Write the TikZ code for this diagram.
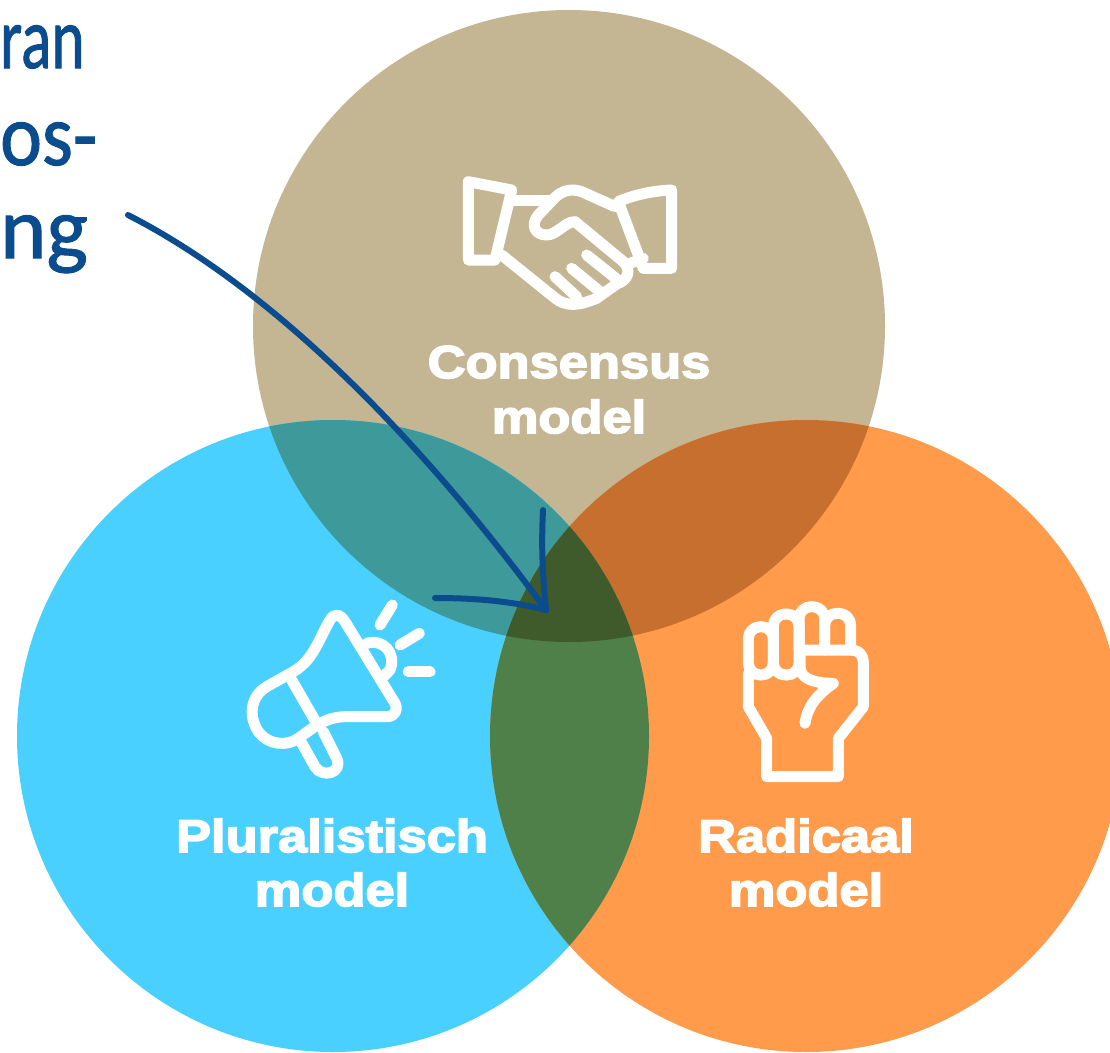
\documentclass[tikz,border=0pt]{standalone}
\usepackage{fontspec}
\newfontfamily\labfont[FakeBold=3.6,FakeStretch=1.14]{Liberation Sans Bold}
\newfontfamily\handfont[FakeBold=1.2]{Carlito}
\definecolor{ctop}{HTML}{C4B593}
\definecolor{cleft}{HTML}{4AD0FF}
\definecolor{cright}{HTML}{FF9B4A}
\definecolor{ctl}{HTML}{3E9A9A}
\definecolor{ctr}{HTML}{C76F2E}
\definecolor{clr}{HTML}{4F8049}
\definecolor{call}{HTML}{3F5A2B}
\definecolor{ink}{HTML}{0A4C8E}
\tikzset{
  lab/.style={text=white,font=\labfont\fontsize{46}{46}\selectfont,anchor=base,inner sep=0pt},
  hand/.style={text=ink,font=\handfont\fontsize{88}{88}\selectfont,anchor=base west,inner sep=0pt},
  icon/.style={draw=white,line width=11pt,line cap=round,line join=round},
  pen/.style={draw=ink,line width=6pt,line cap=round,line join=round},
  zoomed/.style={x=0.33333pt,y=-0.33333pt}
}
\def\ctop{(569,326) circle[radius=316]}
\def\cleft{(333,736) circle[radius=316]}
\def\cright{(806,736) circle[radius=316]}
\begin{document}
\begin{tikzpicture}[x=1pt,y=-1pt]
\useasboundingbox (0,0) rectangle (1110,1052);
\fill[white] (0,0) rectangle (1110,1052);
\fill[ctop] \ctop;
\fill[cleft] \cleft;
\fill[cright] \cright;
\begin{scope}\clip \ctop; \fill[ctl] \cleft; \fill[ctr] \cright; \end{scope}
\begin{scope}\clip \cleft; \fill[clr] \cright; \end{scope}
\begin{scope}\clip \ctop; \clip \cleft; \fill[call] \cright; \end{scope}

% handshake
\begin{scope}[shift={(440,160)},zoomed]
\draw[icon] (85,65) -- (215,90) -- (165,300) -- (85,300) -- cycle;
\draw[icon] (695,90) .. controls (640,92) and (580,105) .. (535,125) -- (610,325) -- (695,325) -- cycle;
\draw[icon] (215,122) -- (330,122);
\draw[icon] (525,140) -- (425,95) .. controls (395,85) and (370,90) .. (345,112) -- (295,165)
  .. controls (270,195) and (285,225) .. (320,225) .. controls (350,225) and (375,185) .. (405,185)
  -- (550,305) .. controls (575,330) and (565,360) .. (530,372);
\draw[icon] (185,285) -- (340,410) .. controls (380,445) and (420,435) .. (470,415) -- (530,372);
\draw[icon] (345,350) -- (410,410);
\draw[icon] (395,325) -- (480,395);
\draw[icon] (440,285) -- (540,365);
\draw[icon] (570,310) -- (610,295);
\end{scope}

% megaphone
\begin{scope}[shift={(230,590)},zoomed]
\draw[icon] (300,90) .. controls (265,150) and (250,210) .. (190,245) -- (110,290)
  .. controls (60,320) and (55,380) .. (85,425) .. controls (115,465) and (170,470) .. (205,445)
  .. controls (260,405) and (290,380) .. (350,380) -- (470,380)
  .. controls (495,380) and (505,360) .. (495,340) -- (345,95)
  .. controls (330,70) and (312,70) .. (300,90) -- cycle;
\draw[icon] (185,270) -- (260,400);
\draw[icon] (210,450) -- (255,530) .. controls (275,565) and (340,550) .. (320,505) -- (280,425);
\draw[icon] (410,160) .. controls (460,145) and (500,190) .. (480,240) -- (462,258);
\draw[icon] (450,105) -- (487,45);
\draw[icon] (510,165) -- (568,130);
\draw[icon] (535,245) -- (600,245);
\end{scope}

% fist
\begin{scope}[shift={(720,590)},zoomed]
\draw[icon] (85,250) -- (85,350) -- (140,445) -- (140,560) -- (355,560) -- (355,445) -- (430,350) -- (430,215) .. controls (430,195) and (415,180) .. (395,180) -- (250,180);
\draw[icon,rounded corners=12pt] (85,255) -- (85,110) -- (160,110) -- (160,255) -- cycle;
\draw[icon,rounded corners=12pt] (160,255) -- (160,72) -- (237,72) -- (237,255) -- cycle;
\draw[icon,rounded corners=12pt] (237,180) -- (237,50) -- (314,50) -- (314,180);
\draw[icon,rounded corners=12pt] (314,180) -- (314,70) -- (392,70) -- (392,180);
\draw[icon] (240,180) -- (240,230) .. controls (240,265) and (280,280) .. (340,280)
  .. controls (290,315) and (262,350) .. (255,400);
\end{scope}

% labels
\node[lab] (c1) at (569,378) {Consensus};
\node[lab] (c2) at (569,433) {model};
\node[lab] (p1) at (332,852) {Pluralistisch};
\node[lab] (p2) at (332,906) {model};
\node[lab] (r1) at (806,852) {Radicaal};
\node[lab] (r2) at (806,906) {model};

% handwriting
\node[hand] (h1) at (0,68) {\scalebox{.72}[1]{ran}};
\node[hand] (h2) at (0,165) {\scalebox{.9}[1]{os-}};
\node[hand] (h3) at (0,258) {ng};

% arrow
\coordinate (as) at (128,215);
\coordinate (at) at (546,610);
\coordinate (b1) at (543,510);
\coordinate (b2) at (435,598);
\draw[pen] (as) .. controls (265,285) and (410,425) .. (at);
\draw[pen] (b1) .. controls (541,550) and (543,580) .. (at);
\draw[pen] (b2) .. controls (480,598) and (515,602) .. (at);
\end{tikzpicture}
\end{document}
